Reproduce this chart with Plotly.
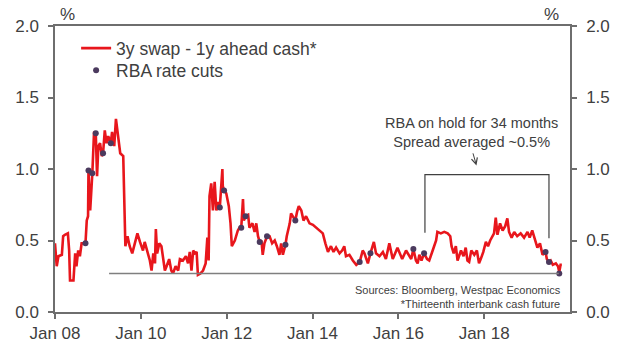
import plotly.graph_objects as go

# ---- data (dates as decimal years) ----
dates = [
    2008.00, 2008.04, 2008.08, 2008.16, 2008.19, 2008.23, 2008.30, 2008.33, 2008.35, 2008.43,
    2008.47, 2008.50, 2008.54, 2008.58, 2008.62, 2008.71, 2008.74, 2008.77, 2008.78, 2008.82,
    2008.87, 2008.91, 2008.95, 2008.98, 2009.01, 2009.05, 2009.09, 2009.12, 2009.16, 2009.20,
    2009.24, 2009.30, 2009.33, 2009.38, 2009.42, 2009.46, 2009.49, 2009.52, 2009.59, 2009.63,
    2009.64, 2009.69, 2009.74, 2009.80, 2009.86, 2009.92, 2009.98, 2010.05, 2010.09, 2010.15,
    2010.21, 2010.25, 2010.29, 2010.33, 2010.35, 2010.38, 2010.43, 2010.48, 2010.52, 2010.56,
    2010.60, 2010.66, 2010.71, 2010.75, 2010.81, 2010.87, 2010.91, 2010.98, 2011.05, 2011.10,
    2011.14, 2011.18, 2011.22, 2011.26, 2011.30, 2011.33, 2011.39, 2011.45, 2011.51, 2011.55,
    2011.58, 2011.60, 2011.64, 2011.68, 2011.72, 2011.76, 2011.80, 2011.84, 2011.90, 2011.91,
    2011.94, 2011.99, 2012.05, 2012.09, 2012.12, 2012.19, 2012.26, 2012.30, 2012.34, 2012.38,
    2012.40, 2012.44, 2012.50, 2012.53, 2012.60, 2012.65, 2012.69, 2012.73, 2012.77, 2012.81,
    2012.84, 2012.88, 2012.94, 2013.00, 2013.06, 2013.12, 2013.17, 2013.23, 2013.27, 2013.31,
    2013.37, 2013.40, 2013.47, 2013.50, 2013.56, 2013.60, 2013.64, 2013.68, 2013.74, 2013.79,
    2013.85, 2013.93, 2014.01, 2014.09, 2014.16, 2014.24, 2014.30, 2014.36, 2014.43, 2014.49,
    2014.55, 2014.63, 2014.69, 2014.74, 2014.78, 2014.86, 2014.94, 2015.02, 2015.10, 2015.17,
    2015.21, 2015.29, 2015.35, 2015.43, 2015.48, 2015.56, 2015.64, 2015.71, 2015.79, 2015.87,
    2015.98, 2016.09, 2016.18, 2016.22, 2016.30, 2016.35, 2016.41, 2016.45, 2016.49, 2016.54,
    2016.60, 2016.67, 2016.72, 2016.80, 2016.88, 2016.91, 2016.99, 2017.07, 2017.15, 2017.21,
    2017.24, 2017.29, 2017.34, 2017.38, 2017.46, 2017.52, 2017.57, 2017.61, 2017.65, 2017.70,
    2017.77, 2017.83, 2017.88, 2017.92, 2017.98, 2018.04, 2018.09, 2018.14, 2018.19, 2018.23,
    2018.27, 2018.31, 2018.37, 2018.43, 2018.49, 2018.54, 2018.58, 2018.64, 2018.70, 2018.77,
    2018.85, 2018.93, 2019.01, 2019.06, 2019.12, 2019.16, 2019.20, 2019.24, 2019.30, 2019.36,
    2019.43, 2019.46, 2019.51, 2019.55, 2019.60, 2019.67, 2019.72, 2019.75, 2019.78, 2019.81,
]
spread = [
    0.48, 0.32, 0.39, 0.40, 0.53, 0.54, 0.55, 0.43, 0.22, 0.22,
    0.41, 0.32, 0.43, 0.39, 0.48, 0.48, 0.64, 0.67, 0.99, 0.71,
    0.97, 1.26, 1.25, 0.95, 1.16, 1.18, 1.09, 1.11, 1.27, 1.18,
    1.23, 1.18, 1.26, 1.16, 1.35, 1.25, 1.18, 1.11, 1.09, 0.53,
    0.46, 0.53, 0.46, 0.41, 0.48, 0.55, 0.49, 0.43, 0.49, 0.43,
    0.36, 0.29, 0.41, 0.34, 0.58, 0.41, 0.48, 0.46, 0.39, 0.29,
    0.32, 0.37, 0.29, 0.27, 0.32, 0.29, 0.37, 0.36, 0.39, 0.34,
    0.42, 0.29, 0.43, 0.41, 0.42, 0.26, 0.27, 0.29, 0.34, 0.52,
    0.36, 0.81, 0.90, 0.71, 0.91, 0.71, 0.77, 0.73, 1.00, 0.88,
    0.85, 0.83, 0.74, 0.62, 0.46, 0.50, 0.57, 0.59, 0.59, 0.79,
    0.64, 0.67, 0.68, 0.59, 0.62, 0.56, 0.62, 0.53, 0.49, 0.50,
    0.40, 0.48, 0.53, 0.53, 0.48, 0.50, 0.46, 0.40, 0.48, 0.40,
    0.47, 0.53, 0.62, 0.69, 0.66, 0.64, 0.70, 0.74, 0.71, 0.64,
    0.67, 0.62, 0.61, 0.59, 0.57, 0.55, 0.48, 0.42, 0.46, 0.42,
    0.45, 0.41, 0.43, 0.46, 0.39, 0.40, 0.36, 0.33, 0.35, 0.43,
    0.41, 0.34, 0.41, 0.49, 0.41, 0.39, 0.42, 0.37, 0.48, 0.37,
    0.45, 0.37, 0.43, 0.41, 0.37, 0.44, 0.36, 0.34, 0.40, 0.36,
    0.41, 0.37, 0.36, 0.43, 0.50, 0.56, 0.55, 0.56, 0.55, 0.53,
    0.46, 0.41, 0.46, 0.36, 0.43, 0.39, 0.45, 0.36, 0.35, 0.43,
    0.40, 0.43, 0.34, 0.37, 0.42, 0.49, 0.46, 0.50, 0.53, 0.55,
    0.66, 0.54, 0.62, 0.57, 0.60, 0.655, 0.56, 0.52, 0.56, 0.53,
    0.55, 0.52, 0.56, 0.52, 0.57, 0.53, 0.49, 0.45, 0.48, 0.40,
    0.42, 0.37, 0.35, 0.36, 0.33, 0.34, 0.32, 0.28, 0.33, 0.33,
]

cut_dates = [2008.71, 2008.78, 2008.87, 2008.95, 2009.12, 2009.30,
             2011.84, 2011.94, 2012.34, 2012.44, 2012.77, 2012.94,
             2013.37, 2013.60, 2015.10, 2015.35, 2016.35, 2016.60,
             2019.43, 2019.51, 2019.75]
cut_values = [0.48, 0.99, 0.97, 1.25, 1.11, 1.18,
              0.73, 0.85, 0.59, 0.67, 0.49, 0.53,
              0.47, 0.64, 0.35, 0.41, 0.44, 0.41,
              0.42, 0.35, 0.27]

floor_value = 0.27
floor_span = [2009.26, 2019.74]

hold_start, hold_end = 2016.62, 2019.51
hold_top = 0.96
hold_left_bottom, hold_right_bottom = 0.555, 0.515

x_tick_vals = [2008, 2010, 2012, 2014, 2016, 2018]
x_tick_text = ["Jan 08", "Jan 10", "Jan 12", "Jan 14", "Jan 16", "Jan 18"]
y_tick_vals = [0.0, 0.5, 1.0, 1.5, 2.0]
y_tick_text = ["0.0", "0.5", "1.0", "1.5", "2.0"]

FONT = "Liberation Sans, Arial, sans-serif"
TXT = "#404040"
AX = "#6e6e6e"

fig = go.Figure()

fig.add_trace(go.Scatter(
    x=floor_span, y=[floor_value, floor_value], mode="lines",
    line=dict(color="#7f7f7f", width=1.5), showlegend=False, hoverinfo="skip",
    yaxis="y2",
))
fig.add_trace(go.Scatter(
    x=dates, y=spread, mode="lines", name="3y swap - 1y ahead cash*",
    line=dict(color="#e8161c", width=2.6), legend="legend",
))
fig.add_trace(go.Scatter(
    x=cut_dates, y=cut_values, mode="markers", name="RBA rate cuts",
    marker=dict(color="#4b3a5e", size=6), legend="legend2",
))

# bracket for the on-hold period
fig.add_shape(
    type="path", xref="x", yref="y",
    path=(f"M {hold_start},{hold_left_bottom} L {hold_start},{hold_top} "
          f"L {hold_end},{hold_top} L {hold_end},{hold_right_bottom}"),
    line=dict(color="#404040", width=1.2),
)

fig.add_annotation(
    x=(hold_start + hold_end) / 2 - 0.36, y=1.255, xref="x", yref="y",
    text="RBA on hold for 34 months<br>Spread averaged ~0.5%",
    showarrow=False, font=dict(family=FONT, size=14.5, color=TXT),
    align="center", xanchor="center", yanchor="middle",
)
fig.add_annotation(
    x=2017.82, y=1.025, ax=2017.73, ay=1.12, xref="x", yref="y",
    axref="x", ayref="y", text="", showarrow=True,
    arrowhead=5, arrowsize=1.2, arrowwidth=1, arrowcolor="#404040",
)
fig.add_annotation(
    x=0.986, y=0.052, xref="paper", yref="paper",
    text="Sources: Bloomberg, Westpac Economics<br>*Thirteenth interbank cash future",
    showarrow=False, align="right", xanchor="right", yanchor="middle",
    font=dict(family=FONT, size=11, color=TXT),
)
fig.add_annotation(x=0.024, y=1.0, xref="paper", yref="paper", text="%",
                   showarrow=False, xanchor="center", yanchor="bottom",
                   font=dict(family=FONT, size=17, color=TXT))
fig.add_annotation(x=0.964, y=1.0, xref="paper", yref="paper", text="%",
                   showarrow=False, xanchor="center", yanchor="bottom",
                   font=dict(family=FONT, size=17, color=TXT))

legend_style = dict(xanchor="left", yanchor="top", bgcolor="rgba(0,0,0,0)",
                    font=dict(family=FONT, size=17.5, color=TXT),
                    itemwidth=30, tracegroupgap=0)

fig.update_layout(
    width=624, height=343, autosize=False,
    margin=dict(l=55, r=54, t=26, b=31),
    paper_bgcolor="white", plot_bgcolor="white",
    font=dict(family=FONT, size=17, color=TXT),
    showlegend=True,
    legend=dict(x=0.041, y=0.985, **legend_style),
    legend2=dict(x=0.041, y=0.908, **legend_style),
    xaxis=dict(range=[2008.0, 2020.0], tickvals=x_tick_vals, ticktext=x_tick_text,
               showgrid=False, zeroline=False, showline=True, linecolor=AX, linewidth=1.5,
               mirror=True, ticks="outside", ticklen=5, tickcolor=AX, tickwidth=1.5,
               automargin=False),
    yaxis=dict(range=[0, 2.0], tickvals=y_tick_vals, ticktext=y_tick_text,
               showgrid=False, zeroline=False, showline=True, linecolor=AX, linewidth=1.5,
               ticks="outside", ticklen=5, tickcolor=AX, tickwidth=1.5, ticklabelstandoff=6,
               automargin=False),
    yaxis2=dict(range=[0, 2.0], tickvals=y_tick_vals, ticktext=y_tick_text,
                overlaying="y", side="right",
                showgrid=False, zeroline=False, showline=True, linecolor=AX, linewidth=1.5,
                ticks="outside", ticklen=5, tickcolor=AX, tickwidth=1.5, ticklabelstandoff=6,
                automargin=False),
)

fig.write_html("out.html", config={"displayModeBar": False},
               post_script="document.body.style.margin='0';")
